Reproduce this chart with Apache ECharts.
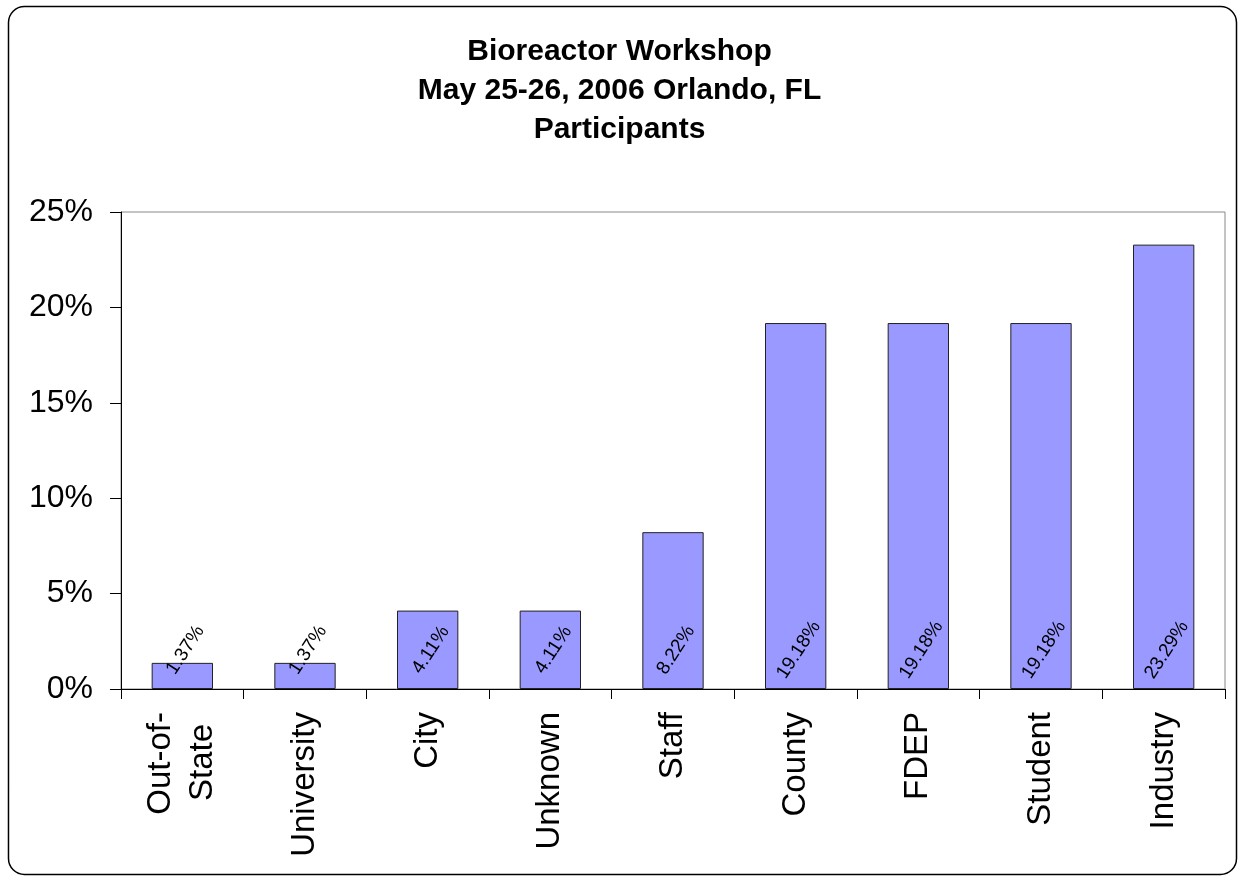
<!DOCTYPE html>
<html>
<head>
<meta charset="utf-8">
<script src="https://cdn.jsdelivr.net/npm/echarts@6/dist/echarts.min.js"></script>
<style>
  html, body { margin: 0; padding: 0; background: #fff; }
  #chart { width: 1239px; height: 878px; }
</style>
</head>
<body>
<div id="chart"></div>
<script>
const titleLines = ['Bioreactor Workshop', 'May 25-26, 2006 Orlando, FL', 'Participants'];
const categories = ['Out-of-State', 'University', 'City', 'Unknown', 'Staff', 'County', 'FDEP', 'Student', 'Industry'];
const values = [1.37, 1.37, 4.11, 4.11, 8.22, 19.18, 19.18, 19.18, 23.29];
const yTicks = [0, 5, 10, 15, 20, 25];

const chart = echarts.init(document.getElementById('chart'), null, { renderer: 'canvas' });
const FONT = 'Arial, "Liberation Sans", sans-serif';

// label rotation and desired on-screen shift of label centre from bar base centre
const LABEL_ROT = 57;
const SHIFT_X = 3, SHIFT_Y = -39;
const th = LABEL_ROT * Math.PI / 180;
// offset is applied in the rotated frame, so convert the screen shift
const labelOffset = [
  SHIFT_X * Math.cos(th) - SHIFT_Y * Math.sin(th),
  SHIFT_X * Math.sin(th) + SHIFT_Y * Math.cos(th)
];

chart.setOption({
  backgroundColor: '#ffffff',
  animation: false,
  title: {
    text: titleLines.join('\n'),
    left: 'center',
    top: 27,
    textStyle: { fontFamily: FONT, fontWeight: 'bold', fontSize: 30, lineHeight: 39, color: '#000' }
  },
  graphic: [{
    type: 'rect',
    shape: { x: 8.5, y: 6.5, width: 1228, height: 868, r: 16 },
    style: { fill: 'none', stroke: '#000', lineWidth: 1.5 },
    silent: true
  }],
  grid: {
    left: 121, right: 14, top: 212, bottom: 189,
    show: true, borderColor: '#888', borderWidth: 1
  },
  xAxis: {
    type: 'category',
    data: categories,
    axisLine: { lineStyle: { color: '#000', width: 1 } },
    axisTick: { show: true, length: 10, alignWithLabel: false, lineStyle: { color: '#000' } },
    axisLabel: {
      rotate: 90,
      interval: 0,
      margin: 23,
      fontFamily: FONT,
      fontSize: 33,
      color: '#000',
      formatter: function (v) {
        if (v === 'Out-of-State') return '{a|Out-of-}\n{b|State}';
        return v;
      },
      rich: {
        a: { fontFamily: FONT, fontSize: 33, color: '#000', lineHeight: 42 },
        b: { fontFamily: FONT, fontSize: 33, color: '#000', lineHeight: 42, padding: [0, 12, 0, 0] }
      }
    }
  },
  yAxis: {
    type: 'value',
    min: 0, max: 25, interval: 5,
    axisLine: { show: true, lineStyle: { color: '#000', width: 1 } },
    axisTick: { show: true, length: 11, lineStyle: { color: '#000' } },
    splitLine: { show: false },
    axisLabel: {
      margin: 28,
      fontFamily: FONT,
      fontSize: 32,
      color: '#000',
      formatter: '{value}%'
    }
  },
  series: [{
    type: 'bar',
    data: values,
    barCategoryGap: '50%',
    itemStyle: { color: '#9999FF', borderColor: '#222', borderWidth: 1 },
    label: {
      show: true,
      position: 'insideBottom',
      distance: 0,
      offset: labelOffset,
      align: 'center',
      verticalAlign: 'middle',
      rotate: LABEL_ROT,
      fontFamily: FONT,
      fontSize: 19,
      color: '#000',
      formatter: function (p) { return p.value.toFixed(2) + '%'; }
    }
  }]
});
</script>
</body>
</html>
